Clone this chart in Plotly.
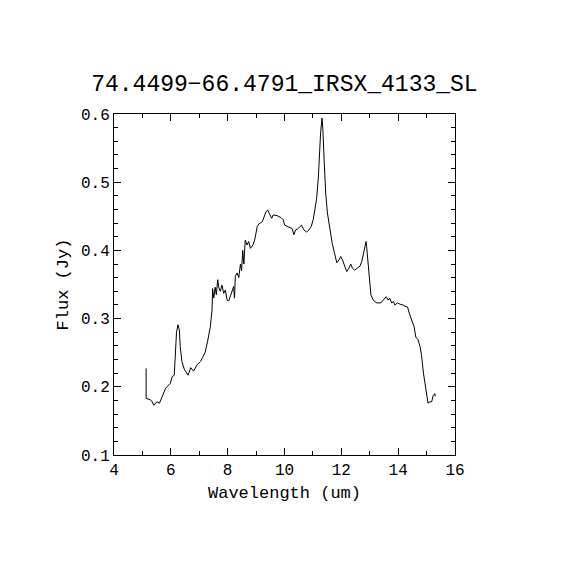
import plotly.graph_objects as go

# spectrum
wavelength = [5.13, 5.13, 5.27, 5.33, 5.40, 5.51, 5.60, 5.72, 5.82, 5.98, 6.05, 6.12, 6.16,
              6.20, 6.25, 6.30, 6.33, 6.39, 6.47, 6.56, 6.61, 6.70, 6.80, 6.92, 7.04, 7.12,
              7.21, 7.29, 7.39, 7.45, 7.47, 7.51, 7.56, 7.60, 7.65, 7.69, 7.74, 7.80, 7.86,
              7.92, 7.98, 8.04, 8.10, 8.16, 8.21, 8.24, 8.27, 8.33, 8.39, 8.45, 8.49, 8.53,
              8.57, 8.62, 8.68, 8.74, 8.80, 8.89, 8.95, 9.04, 9.10, 9.22, 9.30, 9.35, 9.41,
              9.48, 9.55, 9.60, 9.74, 9.88, 9.95, 10.01, 10.12, 10.21, 10.27, 10.33, 10.39,
              10.45, 10.54, 10.60, 10.68, 10.78, 10.86, 10.94, 11.01, 11.07, 11.13, 11.19,
              11.22, 11.27, 11.32, 11.35, 11.40, 11.45, 11.51, 11.60, 11.68, 11.76, 11.84,
              11.92, 11.98, 12.04, 12.12, 12.19, 12.27, 12.33, 12.39, 12.47, 12.56, 12.66,
              12.72, 12.78, 12.82, 12.87, 12.89, 12.94, 12.98, 13.04, 13.12, 13.25, 13.39,
              13.49, 13.58, 13.65, 13.70, 13.77, 13.84, 13.88, 13.98, 14.07, 14.17, 14.24,
              14.33, 14.39, 14.47, 14.56, 14.62, 14.70, 14.77, 14.82, 14.89, 14.94, 15.00,
              15.05, 15.12, 15.18, 15.23, 15.29, 15.30]
flux = [0.227, 0.183, 0.181, 0.179, 0.173, 0.178, 0.176, 0.188, 0.198, 0.205, 0.215, 0.217,
        0.250, 0.280, 0.291, 0.283, 0.259, 0.237, 0.226, 0.220, 0.217, 0.228, 0.223, 0.232,
        0.237, 0.243, 0.251, 0.266, 0.288, 0.313, 0.344, 0.330, 0.346, 0.335, 0.357, 0.345,
        0.340, 0.349, 0.337, 0.342, 0.327, 0.326, 0.334, 0.340, 0.347, 0.330, 0.362, 0.367,
        0.360, 0.380, 0.370, 0.400, 0.380, 0.415, 0.408, 0.413, 0.403, 0.408, 0.415, 0.435,
        0.439, 0.442, 0.450, 0.457, 0.459, 0.454, 0.447, 0.452, 0.451, 0.448, 0.445, 0.437,
        0.435, 0.434, 0.432, 0.423, 0.430, 0.431, 0.434, 0.437, 0.430, 0.427, 0.430, 0.435,
        0.445, 0.459, 0.476, 0.506, 0.535, 0.572, 0.594, 0.577, 0.528, 0.484, 0.455, 0.430,
        0.410, 0.396, 0.382, 0.386, 0.391, 0.386, 0.378, 0.369, 0.374, 0.380, 0.374, 0.371,
        0.374, 0.377, 0.384, 0.396, 0.408, 0.413, 0.406, 0.381, 0.354, 0.335, 0.327, 0.323,
        0.323, 0.327, 0.332, 0.327, 0.330, 0.323, 0.325, 0.320, 0.323, 0.321, 0.320, 0.318,
        0.317, 0.308, 0.298, 0.288, 0.273, 0.269, 0.259, 0.247, 0.220, 0.205, 0.188, 0.176,
        0.178, 0.178, 0.187, 0.190, 0.186]

fig = go.Figure()
fig.add_trace(go.Scatter(x=wavelength, y=flux, mode='lines',
                         line=dict(color='black', width=1), showlegend=False))

axis_style = dict(showline=True, linecolor='black', linewidth=1, mirror='ticks',
                  ticks='inside', ticklen=7, tickcolor='black', showgrid=False,
                  zeroline=False, tickfont=dict(family='Liberation Mono', size=16, color='black'))

fig.update_layout(
    width=570, height=570,
    margin=dict(l=106, r=123, t=106, b=123),
    paper_bgcolor='white', plot_bgcolor='white',
    title=dict(text='74.4499\u221266.4791_IRSX_4133_SL', x=0.485, xanchor='center',
               y=0.868, yanchor='middle',
               font=dict(family='Liberation Mono', size=23, color='black')),
    xaxis=dict(range=[4, 16], dtick=2, tick0=4,
               minor=dict(dtick=1, ticks='inside', ticklen=4, tickcolor='black'),
               title=dict(text='Wavelength (um)', standoff=6,
                          font=dict(family='Liberation Mono', size=17, color='black')),
               **axis_style),
    yaxis=dict(range=[0.1, 0.6], dtick=0.1, tick0=0.1, tickformat='.1f',
               minor=dict(dtick=0.02, ticks='inside', ticklen=4, tickcolor='black'),
               title=dict(text='Flux (Jy)', standoff=8,
                          font=dict(family='Liberation Mono', size=17, color='black')),
               **axis_style),
)

fig.write_html("out.html")
